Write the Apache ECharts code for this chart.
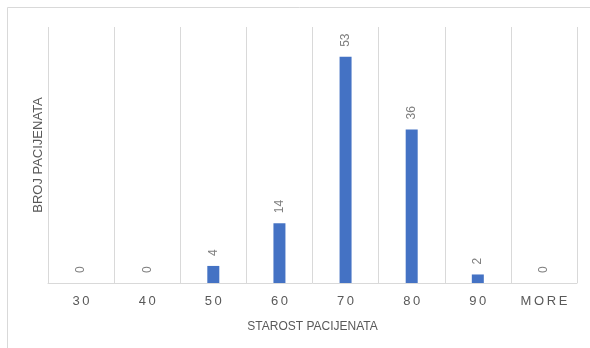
<!DOCTYPE html>
<html><head><meta charset="utf-8">
<script src="https://cdn.jsdelivr.net/npm/echarts@6/dist/echarts.min.js"></script>
<style>html,body{margin:0;padding:0;background:#fff}#c{width:590px;height:348px}</style>
</head><body><div id="c"></div>
<script>
const categories = ["30", "40", "50", "60", "70", "80", "90", "MORE"];
const patients = [0, 0, 4, 14, 53, 36, 2, 0];
const xTitle = "STAROST PACIJENATA";
const yTitle = "BROJ PACIJENATA";

const spaced = s => s.split('').join('\u2009');
const chart = echarts.init(document.getElementById('c'), null, {renderer: 'canvas'});
chart.setOption({
  animation: false,
  backgroundColor: '#fff',
  graphic: [{
    type: 'rect', shape: {x: 7.5, y: 7.5, width: 620, height: 400},
    style: {fill: 'none', stroke: '#d9d9d9', lineWidth: 1}, silent: true, z: -1
  }],
  grid: {left: 48, right: 13, top: 27, bottom: 65},
  xAxis: {
    type: 'category', data: categories,
    name: xTitle, nameLocation: 'middle', nameGap: 38,
    nameTextStyle: {color: '#595959', fontSize: 12, fontFamily: 'Liberation Sans'},
    axisLine: {show: true, lineStyle: {color: '#d9d9d9'}},
    axisTick: {show: false},
    splitLine: {show: true, lineStyle: {color: '#d9d9d9'}},
    axisLabel: {color: '#595959', fontSize: 13, margin: 12, fontFamily: 'Liberation Sans', formatter: v => spaced(v)}
  },
  yAxis: {
    type: 'value', min: 0, max: 60,
    name: yTitle, nameLocation: 'middle', nameGap: 3,
    nameTextStyle: {color: '#595959', fontSize: 13, fontFamily: 'Liberation Sans'},
    axisLine: {show: false}, axisTick: {show: false}, axisLabel: {show: false},
    splitLine: {show: false}
  },
  series: [{
    type: 'bar', data: patients, barWidth: 12,
    itemStyle: {color: '#4472C4'},
    label: {
      show: true, position: 'top', rotate: 90, align: 'left', verticalAlign: 'middle',
      distance: 10, color: '#7f7f7f', fontSize: 12, fontFamily: 'Liberation Sans'
    }
  }]
});
</script></body></html>
